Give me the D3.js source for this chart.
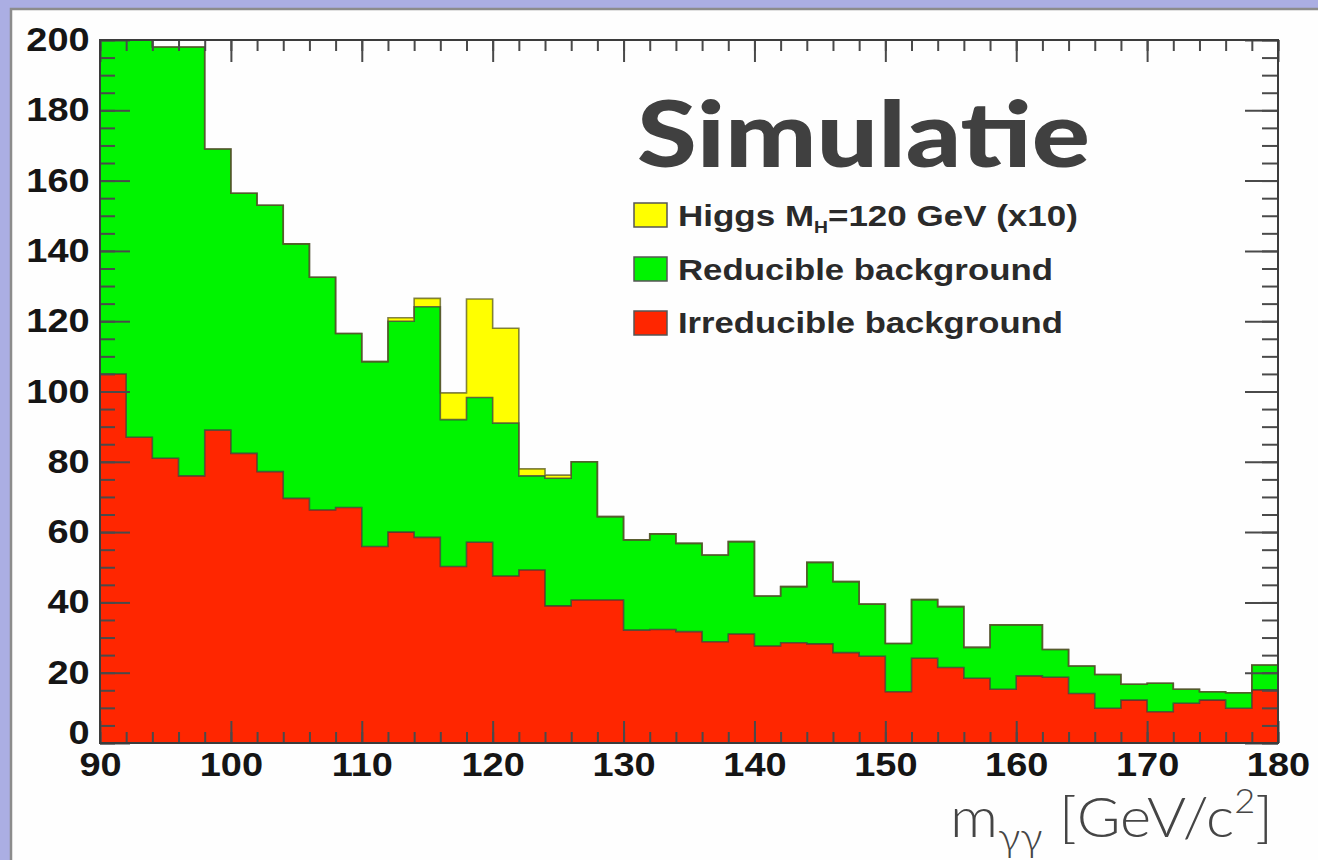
<!DOCTYPE html>
<html><head><meta charset="utf-8">
<script src="https://cdn.jsdelivr.net/npm/d3@7"></script>
<style>body{margin:0;background:#abaee3;} svg{display:block}</style>
</head><body><svg id="c" width="1318" height="860"></svg>
<script>
// ---- data ----
const massBins = [90,92,94,96,98,100,102,104,106,108,110,112,114,116,118,120,122,124,126,128,130,132,134,136,138,140,142,144,146,148,150,152,154,156,158,160,162,164,166,168,170,172,174,176,178];
const irreducible = [105,87,81,76,89,82.4,77.2,69.6,66.3,67,55.9,60,58.5,50.2,57.1,47.5,49.2,39,40.7,40.7,32.1,32.3,31.7,28.8,31,27.6,28.5,28.2,25.7,24.7,14.6,24.1,21.5,18.4,15.3,19.1,18.7,14.1,9.9,12.2,8.9,11.3,12.2,9.9,15.1];
const reducible = [100,118,117,122,80,74,75.8,72.4,66.2,49.5,52.6,60,65.6,41.8,41.2,43.5,26.8,36.3,39.3,23.7,25.7,27.2,25.1,24.7,26.3,14.2,16,23.2,20.2,14.8,13.7,16.7,17.3,8.8,18.3,14.5,7.9,7.8,9.6,4.5,8.1,4,2.4,4.4,7.1];
const higgs = [0,0,0,0,0,0,0,0,0,0,0,1,2.4,7.6,28,27,2,0.9,0,0,0,0,0,0,0,0,0,0,0,0,0,0,0,0,0,0,0,0,0,0,0,0,0,0,0];
const xTicks = [90,100,110,120,130,140,150,160,170,180];
const yTicks = [0,20,40,60,80,100,120,140,160,180,200];
const legendLabels = ["Higgs", "Reducible background", "Irreducible background"];

const svg = d3.select('#c');
svg.append('rect').attr('width',1318).attr('height',860).attr('fill','#abaee3');
svg.append('rect').attr('x',11).attr('y',9).attr('width',1330).attr('height',880)
  .attr('fill','#fefefe').attr('stroke','#8c8c8c').attr('stroke-width',2.5);

const L=100,R=1278,T=40,B=743;
const x = d3.scaleLinear().domain([90,180]).range([L,R]);
const y = d3.scaleLinear().domain([0,200]).range([B,T]);

function fitWidth(sel, target){
  const bb = sel.node().getBBox();
  const k = target/bb.width, x0 = bb.x;
  sel.attr('transform', `translate(${x0},0) scale(${k},1) translate(${-x0},0)`);
}

svg.append('clipPath').attr('id','plotclip').append('rect')
  .attr('x',L).attr('y',T).attr('width',R-L).attr('height',B-T);

const rows = massBins.map((m,i)=>({m, irr: irreducible[i], red: reducible[i], hig: higgs[i]}));
const keys = ['irr','red','hig'];
const colors = {irr:'#ff2600', red:'#00f400', hig:'#ffff00'};
const stacked = d3.stack().keys(keys)(rows);

const g = svg.append('g').attr('clip-path','url(#plotclip)');
const area = d3.area().curve(d3.curveStepAfter).x(d=>x(d.m)).y0(d=>y(d.y0)).y1(d=>y(d.y1));
const line = d3.line().curve(d3.curveStepAfter).x(d=>x(d.m)).y(d=>y(d.y1));
const layers = stacked.map(layer=>{
  const pts = layer.map(d=>({m:d.data.m, y0:d[0], y1:d[1]}));
  const last = pts[pts.length-1];
  pts.push({m: x.domain()[1], y0: last.y0, y1: last.y1});
  return {key: layer.key, pts};
});
layers.forEach(l=>{
  g.append('path').attr('d', area(l.pts)).attr('fill', colors[l.key]);
});
layers.forEach(l=>{
  g.append('path').attr('d', line(l.pts)).attr('fill','none')
    .attr('stroke', l.key==='hig' ? '#5a5a20' : '#3a3a3a').attr('stroke-width',1.6).attr('stroke-opacity',0.75);
});

// axes
const tickColor = '#4a4a4a';
function styleAxis(sel, w){
  sel.select('.domain').remove();
  sel.selectAll('line').attr('stroke', tickColor).attr('stroke-width', w);
}
const yMinor = d3.range(0, 201, 5);
const xMinor = d3.range(90, 181, 2);

svg.append('g').attr('transform',`translate(${L},0)`)
  .call(d3.axisLeft(y).tickValues(yMinor).tickSize(-15).tickFormat('')).call(s=>styleAxis(s,2));
svg.append('g').attr('transform',`translate(${R},0)`)
  .call(d3.axisRight(y).tickValues(yMinor).tickSize(-16).tickFormat('')).call(s=>styleAxis(s,2));
svg.append('g').attr('transform',`translate(${R},0)`)
  .call(d3.axisRight(y).tickValues(yTicks).tickSize(-33).tickFormat('')).call(s=>styleAxis(s,2));
svg.append('g').attr('transform',`translate(0,${B})`)
  .call(d3.axisBottom(x).tickValues(xMinor).tickSize(-11).tickFormat('')).call(s=>styleAxis(s,2));
svg.append('g').attr('transform',`translate(0,${T})`)
  .call(d3.axisTop(x).tickValues(xMinor).tickSize(-11).tickFormat('')).call(s=>styleAxis(s,2));
svg.append('g').attr('transform',`translate(0,${T})`)
  .call(d3.axisTop(x).tickValues(xTicks).tickSize(-22).tickFormat('')).call(s=>styleAxis(s,2));

const yAxis = svg.append('g').attr('transform',`translate(${L},0)`)
  .call(d3.axisLeft(y).tickValues(yTicks).tickSize(-30).tickPadding(9).tickFormat(d3.format('d')));
styleAxis(yAxis,2);
const xAxis = svg.append('g').attr('transform',`translate(0,${B})`)
  .call(d3.axisBottom(x).tickValues(xTicks).tickSize(-22).tickPadding(10).tickFormat(d3.format('d')));
styleAxis(xAxis,2);
[yAxis, xAxis].forEach(a=>{
  a.selectAll('text').attr('font-family','"Liberation Sans", Arial, sans-serif')
    .attr('font-weight','bold').attr('font-size',33).attr('fill','#151515')
    .attr('transform','scale(1.15,1)');
});
yAxis.selectAll('.tick').filter(d=>d===0).select('text').attr('dy','0.02em');

// frame
svg.append('rect').attr('x',L).attr('y',T).attr('width',R-L).attr('height',B-T)
  .attr('fill','none').attr('stroke','#3c3c3c').attr('stroke-width',2);

// title
const title = svg.append('text').attr('x',637).attr('y',167)
  .attr('font-family','Lato, "Open Sans", sans-serif').attr('font-weight',900)
  .attr('font-size',92).attr('fill','#404040').text('Simulatie');
fitWidth(title, 453);

// legend
const legFont = '"Liberation Sans", Arial, sans-serif';
const legRows = [
  {key:'hig', boxY:203, base:226, width:400},
  {key:'red', boxY:257, base:280, width:375},
  {key:'irr', boxY:311, base:333, width:385}
];
legRows.forEach((r,i)=>{
  svg.append('rect').attr('x',634).attr('y',r.boxY).attr('width',33).attr('height',24)
    .attr('fill',colors[r.key]).attr('stroke','#555').attr('stroke-width',1.5);
  const t = svg.append('text').attr('x',678).attr('y',r.base)
    .attr('font-family',legFont).attr('font-weight','bold').attr('font-size',29).attr('fill','#2a2a2a');
  if(r.key==='hig'){
    t.append('tspan').text(legendLabels[0] + ' M');
    t.append('tspan').attr('font-size',16).attr('dy',7).text('H');
    t.append('tspan').attr('dy',-7).text('=120 GeV (x10)');
  } else {
    t.text(legendLabels[i]);
  }
  fitWidth(t, r.width);
});

// x axis title
const xt = svg.append('text').attr('x',950).attr('y',837)
  .attr('font-family','Lato, "Open Sans", sans-serif').attr('font-weight',300)
  .attr('font-size',56).attr('fill','#454545');
xt.append('tspan').text('m');
xt.append('tspan').attr('font-size',40).attr('dy',14).text('γγ');
xt.append('tspan').attr('dy',-14).text(' [GeV/c');
xt.append('tspan').attr('font-size',34).attr('dy',-24).text('2');
xt.append('tspan').attr('dy',24).text(']');
fitWidth(xt, 323);
</script></body></html>
